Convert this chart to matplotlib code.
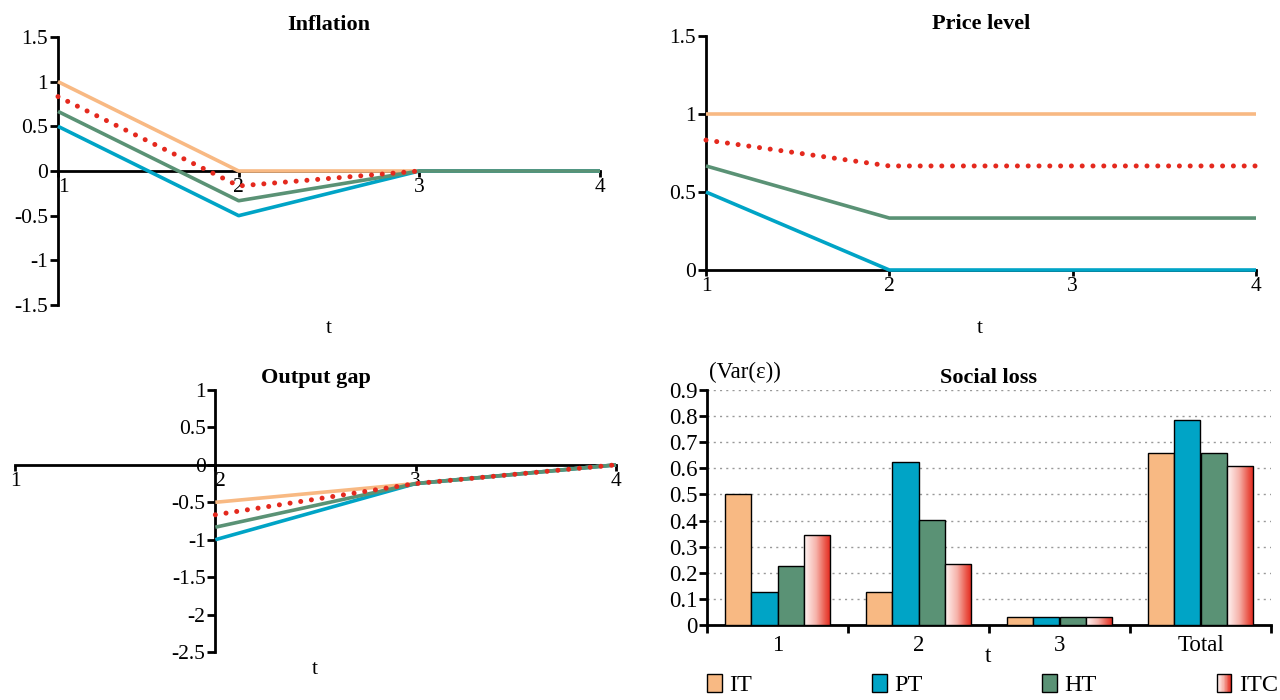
import numpy as np
import matplotlib
matplotlib.use("Agg")
import matplotlib.pyplot as plt
from matplotlib.patches import Patch, Rectangle
from matplotlib.colors import LinearSegmentedColormap
from matplotlib.legend_handler import HandlerBase

plt.rcParams['font.family'] = ['Liberation Serif', 'DejaVu Serif']

# ---------------- data ----------------
t = [1, 2, 3, 4]
t_gap = [2, 3, 4]

infl_IT = [1.0, 0.0, 0.0, 0.0]
infl_PT = [0.5, -0.5, 0.0, 0.0]
infl_HT = [0.667, -0.333, 0.0, 0.0]
infl_ITC = [0.833, -0.167, 0.0]          # drawn for t = 1..3

price_IT = [1.0, 1.0, 1.0, 1.0]
price_PT = [0.5, 0.0, 0.0, 0.0]
price_HT = [0.667, 0.333, 0.333, 0.333]
price_ITC = [0.833, 0.667, 0.667, 0.667]

gap_IT = [-0.5, -0.25, 0.0]
gap_PT = [-1.0, -0.25, 0.0]
gap_HT = [-0.833, -0.25, 0.0]
gap_ITC = [-0.667, -0.25, 0.0]

loss_cats = ['1', '2', '3', 'Total']
loss_IT = [0.5, 0.128, 0.031, 0.659]
loss_PT = [0.128, 0.626, 0.031, 0.785]
loss_HT = [0.225, 0.402, 0.031, 0.658]
loss_ITC = [0.345, 0.232, 0.031, 0.608]

series_names = ['IT', 'PT', 'HT', 'ITC']

# ---------------- style ----------------
C_IT = '#F8B983'
C_PT = '#00A4C6'
C_HT = '#5A9275'
C_ITC = '#E4291E'
LW = 2.6
TICK_FS = 15.5
TITLE_FS = 16

fig = plt.figure(figsize=(12.8, 7.0), dpi=100)

def fx(px):
    return px / 1280.0

def fy(py):
    return 1 - py / 700.0

def line_axes(rect, ylim, yticks, left_at, title):
    ax = fig.add_axes(rect)
    ax.set_xlim(1, 4)
    ax.set_ylim(*ylim)
    for s in ['top', 'right']:
        ax.spines[s].set_visible(False)
    ax.spines['bottom'].set_position(('data', 0))
    ax.spines['left'].set_position(('data', left_at))
    ax.spines['bottom'].set_linewidth(2)
    ax.spines['left'].set_linewidth(2)
    ax.set_xticks(t)
    ax.set_xticklabels([str(v) for v in t])
    ax.set_yticks(yticks)
    ax.set_yticklabels([('%g' % v) for v in yticks])
    ax.tick_params(axis='y', direction='out', length=6, width=2, labelsize=TICK_FS, pad=1)
    ax.tick_params(axis='x', direction='out', length=4, width=2, labelsize=TICK_FS, pad=1)
    ax.set_title(title, fontsize=TITLE_FS, fontweight='bold', pad=5)
    ax.patch.set_alpha(0)
    return ax

def draw_lines(ax, x, it, pt, ht, itc_x, itc):
    ax.plot(x, it, color=C_IT, lw=LW, solid_capstyle='butt', zorder=3, clip_on=False)
    ax.plot(x, pt, color=C_PT, lw=LW, solid_capstyle='butt', zorder=3, clip_on=False)
    ax.plot(x, ht, color=C_HT, lw=LW, solid_capstyle='butt', zorder=3, clip_on=False)
    ax.plot(itc_x, itc, color=C_ITC, lw=3.6, linestyle=(0, (0.01, 2.15)),
            dash_capstyle='round', zorder=4, clip_on=False)

# ---- Inflation ----
ax1 = line_axes([fx(58), fy(305), fx(600 - 58), fy(37) - fy(305)],
                (-1.5, 1.5), [-1.5, -1, -0.5, 0, 0.5, 1, 1.5], 1, 'Inflation')
draw_lines(ax1, t, infl_IT, infl_PT, infl_HT, t[:3], infl_ITC)
lab = ax1.get_xticklabels()
lab[0].set_horizontalalignment('left')
fig.text(fx(329), fy(328), 't', ha='center', va='center', fontsize=TICK_FS)

# ---- Price level ----
ax2 = line_axes([fx(706), fy(270), fx(1256 - 706), fy(36) - fy(270)],
                (0, 1.5), [0, 0.5, 1, 1.5], 1, 'Price level')
draw_lines(ax2, t, price_IT, price_PT, price_HT, t, price_ITC)
fig.text(fx(980), fy(328), 't', ha='center', va='center', fontsize=TICK_FS)

# ---- Output gap ----
ax3 = line_axes([fx(15), fy(652), fx(616 - 15), fy(390) - fy(652)],
                (-2.5, 1), [-2.5, -2, -1.5, -1, -0.5, 0, 0.5, 1], 2, 'Output gap')
draw_lines(ax3, t_gap, gap_IT, gap_PT, gap_HT, t_gap, gap_ITC)
lab = ax3.get_xticklabels()
lab[1].set_horizontalalignment('left')
fig.text(fx(315), fy(670), 't', ha='center', va='center', fontsize=TICK_FS)

# ---- Social loss ----
ax4 = fig.add_axes([fx(707), fy(625), fx(1271 - 707), fy(390) - fy(625)])
x = np.arange(len(loss_cats))
bw = 0.186
offs = [-1.5, -0.5, 0.5, 1.5]
ax4.bar(x + offs[0] * bw, loss_IT, bw, color=C_IT, edgecolor='black', lw=1, zorder=3)
ax4.bar(x + offs[1] * bw, loss_PT, bw, color=C_PT, edgecolor='black', lw=1, zorder=3)
ax4.bar(x + offs[2] * bw, loss_HT, bw, color=C_HT, edgecolor='black', lw=1, zorder=3)
itc_bars = ax4.bar(x + offs[3] * bw, loss_ITC, bw, facecolor='none', edgecolor='black', lw=1, zorder=4)

grad_cmap = LinearSegmentedColormap.from_list(
    'itc', [(0, '#FFF6F4'), (0.45, '#F6B3AB'), (0.8, '#EA5548'), (1, '#E2231A')])
grad = np.linspace(0, 1, 256).reshape(1, -1)
for p in itc_bars:
    x0, y0 = p.get_x(), p.get_y()
    w, h = p.get_width(), p.get_height()
    im = ax4.imshow(grad, cmap=grad_cmap, extent=(x0, x0 + w, y0, y0 + h),
                    aspect='auto', zorder=3.5, interpolation='bilinear')
    im.set_clip_path(p)

ax4.set_xlim(-0.5, 3.5)
ax4.set_ylim(0, 0.9)
ax4.set_yticks(np.arange(0, 0.91, 0.1))
ax4.set_yticklabels(['0'] + ['%.1f' % v for v in np.arange(0.1, 0.91, 0.1)])
ax4.set_xticks(x)
ax4.set_xticklabels(loss_cats)
ax4.set_xticks(np.arange(-0.5, 3.6, 1), minor=True)
ax4.tick_params(axis='x', which='major', length=0, labelsize=TICK_FS + 1, pad=7)
ax4.tick_params(axis='x', which='minor', direction='out', length=6, width=2)
ax4.tick_params(axis='y', direction='out', length=6, width=2, labelsize=TICK_FS + 1, pad=1)
for s in ['top', 'right']:
    ax4.spines[s].set_visible(False)
ax4.spines['bottom'].set_linewidth(2)
ax4.spines['left'].set_linewidth(2)
ax4.yaxis.grid(True, linestyle=(0, (1.5, 3)), color='#999999', lw=1)
ax4.set_axisbelow(True)
ax4.set_title('Social loss', fontsize=TITLE_FS, fontweight='bold', pad=5)
fig.text(fx(745), fy(372), '(Var(ε))', ha='center', va='center', fontsize=TICK_FS + 1)
fig.text(fx(988), fy(656), 't', ha='center', va='center', fontsize=TICK_FS + 1)


class GradHandler(HandlerBase):
    def create_artists(self, legend, orig_handle, xdescent, ydescent,
                       width, height, fontsize, trans):
        n = 24
        arts = []
        for i in range(n):
            r = Rectangle((-xdescent + i * width / n, -ydescent), width / n + 0.2, height,
                          facecolor=grad_cmap(i / (n - 1)), lw=0, transform=trans)
            arts.append(r)
        arts.append(Rectangle((-xdescent, -ydescent), width, height, facecolor='none',
                              edgecolor='black', lw=1, transform=trans))
        return arts


class GradProxy:
    pass


handles = [Patch(facecolor=C_IT, edgecolor='black', lw=1),
           Patch(facecolor=C_PT, edgecolor='black', lw=1),
           Patch(facecolor=C_HT, edgecolor='black', lw=1),
           GradProxy()]
ax4.legend(handles, series_names, ncol=4, loc='center left', mode='expand',
           bbox_to_anchor=(0.0, -0.255, 1.012, 0.0), frameon=False,
           fontsize=TICK_FS + 2, handlelength=0.6, handleheight=0.75, handletextpad=0.3,
           borderpad=0, borderaxespad=0,
           handler_map={GradProxy: GradHandler()})

fig.savefig('out.png', dpi=100)
